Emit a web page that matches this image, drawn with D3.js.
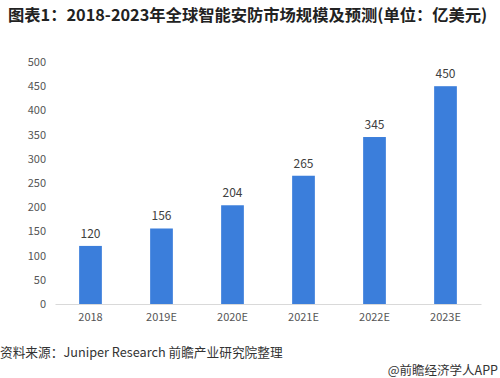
<!DOCTYPE html>
<html><head><meta charset="utf-8">
<script src="https://cdn.jsdelivr.net/npm/d3@7"></script>
<style>body{margin:0;background:#fff;} svg{display:block;}</style>
</head><body>
<svg id="c" width="500" height="378"></svg>
<script>
const categories = ["2018","2019E","2020E","2021E","2022E","2023E"];
const values = [120,156,204,265,345,450];
const yTicks = [0,50,100,150,200,250,300,350,400,450,500];

const svg = d3.select("#c");
const W = 500, H = 378;
svg.append("rect").attr("width",W).attr("height",H).attr("fill","#fff");

const x = d3.scaleBand().domain(categories).range([55,481]).paddingInner(0.68).paddingOuter(0.34);
const y = d3.scaleLinear().domain([0,500]).range([304,62]);

const font = "'Microsoft YaHei','Noto Sans CJK SC',sans-serif";

svg.append("text").attr("x",8).attr("y",21)
  .attr("font-family","'Noto Sans CJK SC',sans-serif").attr("font-weight","bold")
  .attr("font-size",16.3).attr("fill","#222")
  .text("图表1：2018-2023年全球智能安防市场规模及预测(单位：亿美元)");

const ya = svg.append("g").attr("transform","translate(46,0)")
  .call(d3.axisLeft(y).tickValues(yTicks).tickSize(0).tickPadding(0));
ya.select(".domain").remove();
ya.selectAll("text").attr("font-family",font).attr("font-size",11).attr("fill","#555");

const xa = svg.append("g").attr("transform","translate(0,304)")
  .call(d3.axisBottom(x).tickSize(0).tickPadding(9));
xa.select(".domain").attr("stroke","#d9d9d9");
xa.selectAll("text").attr("font-family",font).attr("font-size",11).attr("fill","#555");

svg.selectAll("rect.bar").data(values).join("rect").attr("class","bar")
  .attr("x",(d,i)=>x(categories[i])).attr("width",x.bandwidth())
  .attr("y",d=>y(d)).attr("height",d=>y(0)-y(d)).attr("fill","#3b7edb");

svg.selectAll("text.lbl").data(values).join("text").attr("class","lbl")
  .attr("x",(d,i)=>x(categories[i])+x.bandwidth()/2).attr("y",d=>y(d)-8)
  .attr("text-anchor","middle").attr("font-family",font).attr("font-size",12).attr("fill","#404040")
  .text(d=>d);

svg.append("text").attr("x",0).attr("y",357).attr("font-family",font).attr("font-size",12.7).attr("fill","#333")
  .text("资料来源：Juniper Research 前瞻产业研究院整理");
svg.append("text").attr("x",498).attr("y",375).attr("text-anchor","end").attr("font-family",font).attr("font-size",12.5).attr("fill","#333")
  .text("@前瞻经济学人APP");
</script>
</body></html>
